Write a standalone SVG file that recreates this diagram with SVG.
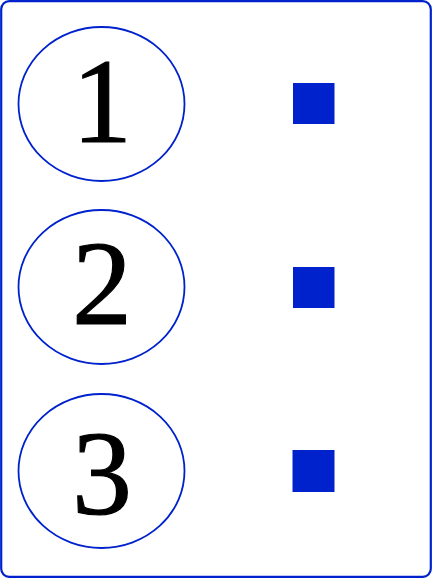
<svg xmlns="http://www.w3.org/2000/svg" width="432" height="578" viewBox="0 0 432 578">
<style>
.frame{fill:#ffffff;stroke:#0022cc;stroke-width:2.2}
.node{fill:#ffffff;stroke:#0022cc;stroke-width:1.8}
.lbl{font-family:"Liberation Serif","DejaVu Serif",serif;font-size:120px;fill:#000000;stroke:#000000;stroke-width:1.2;text-anchor:middle}
.sq{fill:#0022cc}
</style>
<rect class="frame" x="1.2" y="1.2" width="429.6" height="575.6" rx="8" ry="8"/>
<g id="connectors"></g>
<g id="node1">
<ellipse class="node" cx="101.5" cy="104" rx="83" ry="77"/>
<text class="lbl" x="102" y="142">1</text>
</g>
<g id="node2">
<ellipse class="node" cx="101.5" cy="287" rx="83" ry="77"/>
<text class="lbl" x="102" y="324">2</text>
</g>
<g id="node3">
<ellipse class="node" cx="101.5" cy="471" rx="83" ry="77"/>
<text class="lbl" x="102" y="514">3</text>
</g>
<g id="square1"><rect class="sq" x="293" y="83" width="41.5" height="41"/></g>
<g id="square2"><rect class="sq" x="293" y="267" width="41.5" height="41"/></g>
<g id="square3"><rect class="sq" x="292.5" y="450" width="42" height="42"/></g>
</svg>
